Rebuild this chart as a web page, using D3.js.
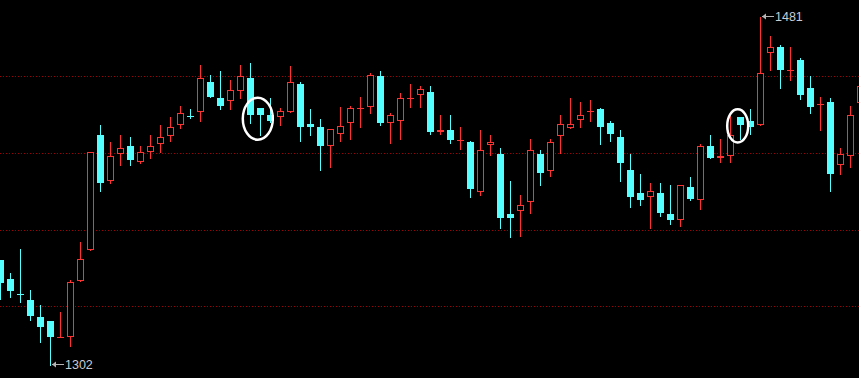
<!DOCTYPE html>
<html>
<head>
<meta charset="utf-8">
<script src="https://cdn.jsdelivr.net/npm/d3@7"></script>
<style>
  html, body { margin: 0; padding: 0; background: #000; overflow: hidden; }
  svg { display: block; }
</style>
</head>
<body>
<svg id="chart"></svg>
<script>
// candle data, one entry per bar (left to right)
const opens = [
  1356, 1346, 1338.5, 1335.5, 1326.5, 1324.5, 1316.5, 1316.5, 1345, 1361,
  1420, 1396.5, 1410.5, 1414.5, 1406.5, 1411.5, 1415.5, 1419.5, 1425.5, 1430,
  1432, 1447.5, 1439, 1437.5, 1442.5, 1449.5, 1434, 1430.5, 1429.5, 1432,
  1446.5, 1426, 1424.5, 1414.5, 1420.5, 1426.5, 1434, 1434.5, 1450.5, 1426.5,
  1427.5, 1439, 1440.5, 1442, 1421.5, 1422.5, 1417.5, 1416.5, 1391, 1415,
  1410.5, 1379.5, 1381, 1385.5, 1410.5, 1401.5, 1419.5, 1423.5, 1428, 1432.5,
  1433.5, 1426.5, 1419, 1402, 1390.5, 1388.5, 1390.5, 1379.5, 1376.5, 1393.5,
  1386.5, 1414.5, 1408.5, 1409.5, 1429.5, 1427.5, 1425.5, 1462.5, 1465.5, 1453.5,
  1458.5, 1444.5, 1436, 1437, 1404.5, 1409.5, 1436.5
];
const highs = [
  1356, 1349, 1361.5, 1340.5, 1333, 1324.5, 1329, 1345.5, 1365, 1411.5,
  1425.5, 1416.5, 1420, 1419, 1414.5, 1420, 1425.5, 1429.5, 1435, 1433.5,
  1456, 1451, 1453, 1448.5, 1456, 1457, 1434, 1439, 1434, 1455.5,
  1447.5, 1433.5, 1428.5, 1423, 1434.5, 1435, 1439.5, 1452, 1453, 1431.5,
  1441.5, 1446.5, 1445.5, 1445.5, 1430.5, 1430.5, 1424.5, 1417, 1422.5, 1420,
  1413.5, 1396.5, 1389.5, 1418, 1412.5, 1418, 1430.5, 1439, 1437, 1438,
  1434, 1427.5, 1422.5, 1410.5, 1400, 1395.5, 1395.5, 1394.5, 1394.5, 1398.5,
  1415.5, 1420, 1418, 1430, 1429.5, 1433.5, 1481, 1471, 1466.5, 1465.5,
  1459.5, 1450.5, 1439.5, 1439, 1413.5, 1435, 1448
];
const lows = [
  1336, 1337, 1334.5, 1325, 1314, 1302, 1316.5, 1312, 1345, 1361,
  1391.5, 1395.5, 1404.5, 1404.5, 1405.5, 1408.5, 1411.5, 1417, 1423.5, 1429,
  1427.5, 1439.5, 1433.5, 1433.5, 1439, 1426.5, 1420, 1427, 1425.5, 1432,
  1417, 1420, 1402, 1403.5, 1417, 1418, 1424.5, 1431.5, 1425.5, 1416,
  1418, 1434.5, 1434.5, 1420.5, 1420.5, 1416, 1413, 1388.5, 1389.5, 1410,
  1372.5, 1367.5, 1368.5, 1380, 1394.5, 1399, 1411, 1423.5, 1424.5, 1427.5,
  1415.5, 1417, 1396.5, 1383, 1384, 1372.5, 1378.5, 1374.5, 1373.5, 1386.5,
  1382, 1408.5, 1406.5, 1406.5, 1418, 1420.5, 1425.5, 1453.5, 1444.5, 1448.5,
  1438.5, 1431.5, 1422.5, 1391.5, 1400, 1403.5, 1433
];
const closes = [
  1344, 1340, 1338.5, 1327, 1321.5, 1316.5, 1316.5, 1344.5, 1356.5, 1411.5,
  1395.5, 1409.5, 1413.5, 1407.5, 1411.5, 1414.5, 1419, 1424.5, 1431.5, 1430,
  1449.5, 1439.5, 1435, 1443, 1450.5, 1430.5, 1430.5, 1427.5, 1432.5, 1447.5,
  1424.5, 1424.5, 1414.5, 1423, 1425, 1434, 1434, 1451, 1426.5, 1430.5,
  1439, 1439, 1444, 1421.5, 1422.5, 1417.5, 1417.5, 1392.5, 1412.5, 1416.5,
  1377.5, 1377.5, 1384, 1412.5, 1400.5, 1416.5, 1426, 1426, 1430.5, 1432.5,
  1424.5, 1420.5, 1405.5, 1388.5, 1386.5, 1391.5, 1380, 1376.5, 1394.5, 1387.5,
  1414.5, 1408.5, 1409.5, 1420, 1425.5, 1424.5, 1452, 1465.5, 1453.5, 1453.5,
  1440.5, 1434.5, 1436, 1400, 1410.5, 1430.5, 1445.5
];

// dotted reference levels
const gridPrices = [1332.5, 1371.5, 1411, 1450.5];

// extreme labels: bar index, price, text
const extremes = [
  { idx: 5,  price: 1302, label: '1302' },
  { idx: 76, price: 1481, label: '1481' }
];

// hand-drawn circles: centre as bar index and price
const circles = [
  { idx: 25.73, price: 1428.5, rx: 15, ry: 21 },
  { idx: 73.72, price: 1424.8, rx: 10.5, ry: 16.6 }
];

const W = 859, H = 378;
const UP = '#ff3232', DOWN = '#54ffff';

const svg = d3.select('#chart')
  .attr('width', W)
  .attr('height', H)
  .style('background', '#000');

const bars = opens.map((o, i) => ({
  i, open: o, high: highs[i], low: lows[i], close: closes[i]
}));

const x = d3.scaleLinear().domain([0, bars.length - 1]).range([0.5, 0.5 + 10 * (bars.length - 1)]);
const y = d3.scaleLinear().domain([1302, 1481]).range([365, 16.5]);
const py = v => Math.round(y(v));

// up / down colour; a doji follows the previous close
function isUp(d) {
  if (d.close !== d.open) return d.close > d.open;
  const prev = d.i > 0 ? closes[d.i - 1] : d.open;
  return d.close >= prev;
}

// grid
svg.append('g')
  .selectAll('line')
  .data(gridPrices)
  .join('line')
    .attr('x1', 0)
    .attr('x2', W)
    .attr('y1', d => py(d) + 0.5)
    .attr('y2', d => py(d) + 0.5)
    .attr('stroke', '#a00000')
    .attr('stroke-width', 1)
    .attr('stroke-dasharray', '1,2');

const g = svg.append('g');

const candle = g.selectAll('.candle')
  .data(bars)
  .join('g')
    .attr('class', 'candle');

// wicks
candle.append('line')
  .attr('x1', d => x(d.i))
  .attr('x2', d => x(d.i))
  .attr('y1', d => py(d.high))
  .attr('y2', d => py(d.low) + 1)
  .attr('stroke', d => isUp(d) ? UP : DOWN)
  .attr('stroke-width', 1);

// bodies
candle.each(function(d) {
  const c = x(d.i);
  const top = py(Math.max(d.open, d.close));
  const bot = py(Math.min(d.open, d.close));
  const col = isUp(d) ? UP : DOWN;
  const sel = d3.select(this);
  if (bot - top < 2) {
    // flat bar
    sel.append('rect')
      .attr('x', c - 3.5)
      .attr('y', top)
      .attr('width', 7)
      .attr('height', Math.max(1, bot - top))
      .attr('fill', col);
  } else if (isUp(d)) {
    sel.append('rect')
      .attr('x', c - 3)
      .attr('y', top + 0.5)
      .attr('width', 6)
      .attr('height', bot - top - 1)
      .attr('fill', '#000')
      .attr('stroke', col)
      .attr('stroke-width', 1);
  } else {
    sel.append('rect')
      .attr('x', c - 3.5)
      .attr('y', top)
      .attr('width', 7)
      .attr('height', bot - top)
      .attr('fill', col);
  }
});

// high / low markers
const mark = svg.append('g')
  .selectAll('g')
  .data(extremes)
  .join('g')
    .attr('transform', d => `translate(${x(d.idx) + 0.5},${py(d.price) - 0.5})`);

mark.append('line')
  .attr('x1', 1).attr('x2', 13)
  .attr('y1', 0).attr('y2', 0)
  .attr('stroke', '#b4b4b4')
  .attr('stroke-width', 1);

mark.append('path')
  .attr('d', 'M1,0 L5,-3 L5,3 Z')
  .attr('fill', '#b4b4b4');

mark.append('text')
  .attr('x', 14)
  .attr('y', 4.5)
  .attr('fill', '#c8ccd4')
  .style('font-family', 'Liberation Sans, Arial, sans-serif')
  .style('font-size', '12.5px')
  .text(d => d.label);

// circles
svg.append('g')
  .selectAll('ellipse')
  .data(circles)
  .join('ellipse')
    .attr('cx', d => x(d.idx))
    .attr('cy', d => y(d.price))
    .attr('rx', d => d.rx)
    .attr('ry', d => d.ry)
    .attr('fill', 'none')
    .attr('stroke', '#fff')
    .attr('stroke-width', 2.5);
</script>
</body>
</html>
